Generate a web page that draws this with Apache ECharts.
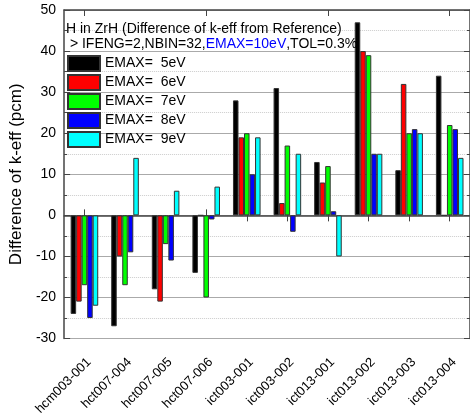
<!DOCTYPE html>
<html><head><meta charset="utf-8">
<script src="https://cdn.jsdelivr.net/npm/echarts@6/dist/echarts.min.js"></script>
<style>html,body{margin:0;padding:0;background:#fff}#c{width:470px;height:418px}</style>
</head><body><div id="c"></div>
<script>
const categories = ['hcm003-001','hct007-004','hct007-005','hct007-006','ict003-001','ict003-002','ict013-001','ict013-002','ict013-003','ict013-004'];
const seriesNames = ['EMAX=  5eV','EMAX=  6eV','EMAX=  7eV','EMAX=  8eV','EMAX=  9eV'];
const emax5 = [-24,-27,-18,-14,28,31,13,47,11,34];
const emax6 = [-21,-10,-21,0,19,3,8,40,32,0];
const emax7 = [-17,-17,-7,-20,20,17,12,39,20,22];
const emax8 = [-25,-9,-11,-1,10,-4,1,15,21,21];
const emax9 = [-22,14,6,7,19,15,-10,15,20,14];
const yTicks = [-30,-20,-10,0,10,20,30,40,50];

const colors = ['#000000','#ff0000','#00ff00','#0000ff','#00ffff'];
const values = [emax5,emax6,emax7,emax8,emax9];
const font = 'Liberation Sans, Arial, sans-serif';
const chart = echarts.init(document.getElementById('c'), null, {renderer:'canvas'});
const axisLine = {show:true, lineStyle:{color:'#444', width:1.5}};
const option = {
  animation:false,
  backgroundColor:'#fff',
  grid:{left:63, top:10, width:410, height:330},
  title:{
    left:66, top:22, padding:0,
    text:'{a|H in ZrH (Difference of k-eff from Reference)}\n{a| > IFENG=2,NBIN=32,}{b|EMAX=10eV}{a|,TOL=0.3%}',
    textStyle:{fontWeight:'normal', rich:{
      a:{fontFamily:font, fontSize:14, color:'#000', lineHeight:15, fontWeight:'normal'},
      b:{fontFamily:font, fontSize:14, color:'#0000ff', lineHeight:15, fontWeight:'normal'}
    }}
  },
  legend:{
    orient:'vertical', left:67, top:55, padding:0, itemWidth:32, itemHeight:15, itemGap:2,
    textStyle:{fontFamily:font, fontSize:14, color:'#000', lineHeight:15},
    data:seriesNames, icon:'rect'
  },
  xAxis:[
    {type:'category', data:categories, position:'bottom',
     axisLine:axisLine,
     axisTick:{show:true, alignWithLabel:true, inside:false, length:6, lineStyle:{color:'#444', width:1}},
     axisLabel:{rotate:45, fontFamily:font, fontSize:13, color:'#000', margin:17, interval:0, verticalAlign:'top'}},
    {type:'category', data:categories, position:'bottom', gridIndex:0,
     axisLine:{show:false},
     axisTick:{show:true, alignWithLabel:true, inside:true, length:6, lineStyle:{color:'#444', width:1}},
     axisLabel:{show:false}},
    {type:'category', data:categories, position:'top',
     axisLine:axisLine,
     axisTick:{show:true, alignWithLabel:true, inside:true, length:6, lineStyle:{color:'#444', width:1}},
     axisLabel:{show:false}}
  ],
  yAxis:[
    {type:'value', min:yTicks[0], max:yTicks[yTicks.length-1], interval:10, position:'left',
     name:'Difference of k-eff (pcm)', nameLocation:'middle', nameGap:30,
     nameTextStyle:{fontFamily:font, fontSize:17, color:'#000'},
     axisLine:axisLine,
     axisTick:{show:true, inside:true, length:6, lineStyle:{color:'#444'}},
     minorTick:{show:true, splitNumber:2, length:3, lineStyle:{color:'#444'}},
     axisLabel:{fontFamily:font, fontSize:14, color:'#000', margin:8},
     splitLine:{show:true, lineStyle:{color:'#aaa', width:1}},
     minorSplitLine:{show:true, lineStyle:{color:'#ccc', type:'dotted', width:1}}},
    {type:'value', min:yTicks[0], max:yTicks[yTicks.length-1], interval:10, position:'right',
     axisLine:axisLine,
     axisTick:{show:true, inside:true, length:6, lineStyle:{color:'#444'}},
     minorTick:{show:true, splitNumber:2, length:3, lineStyle:{color:'#444'}},
     axisLabel:{show:false}, splitLine:{show:false}}
  ],
  series: seriesNames.map((n,i)=>({
    name:n, type:'bar', xAxisIndex:0, yAxisIndex:0, data:values[i],
    barGap:'0%', barCategoryGap:'32%',
    itemStyle:{color:colors[i], borderColor:'#333', borderWidth:1}
  }))
};
chart.setOption(option);
</script></body></html>
